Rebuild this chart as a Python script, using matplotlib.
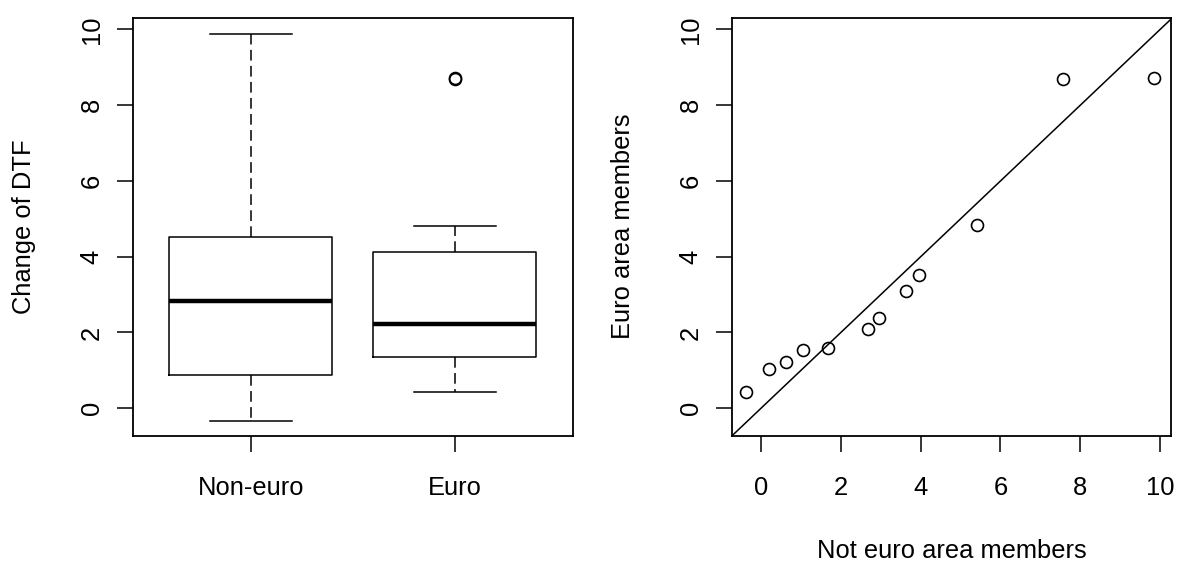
import matplotlib
matplotlib.use("Agg")
import matplotlib.pyplot as plt

plt.rcParams["font.family"] = ["Liberation Sans", "DejaVu Sans"]

# five-number summaries read as boxplot statistics
groups = ["Non-euro", "Euro"]
whisker_low = [-0.34, 0.42]
lower_hinge = [0.89, 1.35]
medians = [2.83, 2.23]
upper_hinge = [4.52, 4.13]
whisker_high = [9.88, 4.82]
outliers = [[], [8.68, 8.72]]

# sorted quantiles for the q-q plot
not_euro_q = [-0.37, 0.21, 0.62, 1.06, 1.68, 2.68, 2.96, 3.63, 3.97, 5.42, 7.56, 9.85]
euro_q = [0.44, 1.04, 1.21, 1.54, 1.58, 2.09, 2.39, 3.10, 3.53, 4.84, 8.68, 8.72]

FS = 18.4
LW = 1.1

fig = plt.figure(figsize=(11.78, 5.61), dpi=100)
W, H = 1178, 561


def panel(x0, x1, y0, y1):
    return fig.add_axes([x0 / W, 1 - y1 / H, (x1 - x0) / W, (y1 - y0) / H])


def style(ax):
    for s in ax.spines.values():
        s.set_linewidth(1.3)
    ax.tick_params(axis="both", length=11.5, width=1.1, labelsize=FS)
    ax.tick_params(axis="x", pad=17.9)
    ax.tick_params(axis="y", pad=9.3, labelrotation=90)
    for lbl in ax.get_yticklabels():
        lbl.set_va("center")


ax1 = panel(132.7, 573, 17.7, 435.5)
ax2 = panel(731.5, 1171.3, 17.7, 435.5)

stats = []
for i, g in enumerate(groups):
    stats.append({
        "label": g,
        "whislo": whisker_low[i],
        "q1": lower_hinge[i],
        "med": medians[i],
        "q3": upper_hinge[i],
        "whishi": whisker_high[i],
        "fliers": outliers[i],
    })

ax1.bxp(stats, positions=[1, 2], widths=0.8, showfliers=True,
        boxprops=dict(color="black", linewidth=LW),
        medianprops=dict(color="black", linewidth=3.2, solid_capstyle="butt"),
        whiskerprops=dict(color="black", linewidth=LW, linestyle=(0, (7, 3.5))),
        capprops=dict(color="black", linewidth=LW),
        capwidths=0.4,
        flierprops=dict(marker="o", markersize=8.6, markerfacecolor="none",
                        markeredgecolor="black", markeredgewidth=1.2))
ax1.set_xlim(0.42, 2.58)
ax1.set_ylim(-0.72, 10.31)
ax1.set_yticks([0, 2, 4, 6, 8, 10])
ax1.set_xticks([1, 2])
ax1.set_xticklabels(groups)
style(ax1)
ax1.set_ylabel("Change of DTF", fontsize=FS, va="center")
ax1.yaxis.set_label_coords(-109 / 440.3, 0.5)

ax2.plot(not_euro_q, euro_q, linestyle="none", marker="o", markersize=8.6,
         markerfacecolor="none", markeredgecolor="black", markeredgewidth=1.2)
ax2.axline((0, 0), slope=1, color="black", linewidth=LW)
ax2.set_xlim(-0.74, 10.28)
ax2.set_ylim(-0.72, 10.31)
ax2.set_xticks([0, 2, 4, 6, 8, 10])
ax2.set_yticks([0, 2, 4, 6, 8, 10])
style(ax2)
ax2.set_ylabel("Euro area members", fontsize=FS, va="center")
ax2.yaxis.set_label_coords(-109 / 439.8, 0.5)
ax2.set_xlabel("Not euro area members", fontsize=FS, va="baseline")
ax2.xaxis.set_label_coords(0.5, -(558.3 - 435.5) / 417.8)

fig.savefig("out.png", dpi=100)
